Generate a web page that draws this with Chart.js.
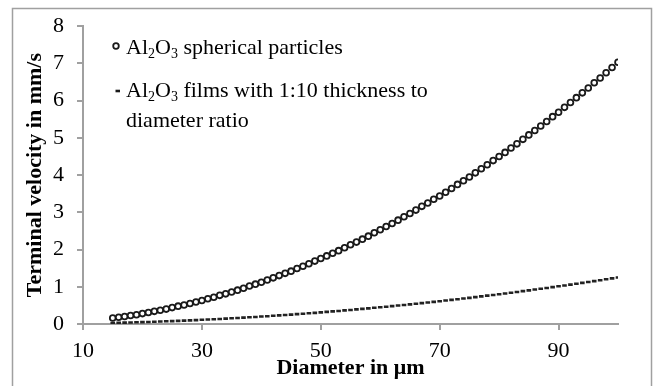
<!DOCTYPE html>
<html>
<head>
<meta charset="utf-8">
<script src="https://cdn.jsdelivr.net/npm/chart.js@4.4.0/dist/chart.umd.min.js"></script>
<style>
  html, body { margin: 0; padding: 0; background: #fff; }
  #wrap { width: 654px; height: 386px; }
</style>
</head>
<body>
<div id="wrap"><canvas id="velocity-chart" width="654" height="386"></canvas></div>
<script>
// Data

let diameters = [
	15, 16, 17, 18, 19, 20, 21, 22, 23, 24, 25, 26, 27, 28, 29, 30, 31, 32, 33, 34,
	35, 36, 37, 38, 39, 40, 41, 42, 43, 44, 45, 46, 47, 48, 49, 50, 51, 52, 53, 54,
	55, 56, 57, 58, 59, 60, 61, 62, 63, 64, 65, 66, 67, 68, 69, 70, 71, 72, 73, 74,
	75, 76, 77, 78, 79, 80, 81, 82, 83, 84, 85, 86, 87, 88, 89, 90, 91, 92, 93, 94,
	95, 96, 97, 98, 99, 100
];

let labelSpheres = "Al2O3 spherical particles";
let dataSpheres = [
	0.16, 0.18, 0.20, 0.23, 0.25, 0.28, 0.31, 0.34, 0.37, 0.40, 0.44, 0.48, 0.51, 0.55, 0.59, 0.63, 0.68, 0.72, 0.77, 0.81,
	0.86, 0.91, 0.96, 1.02, 1.07, 1.12, 1.18, 1.24, 1.30, 1.36, 1.42, 1.49, 1.55, 1.62, 1.69, 1.76, 1.83, 1.90, 1.97, 2.05,
	2.13, 2.20, 2.28, 2.36, 2.45, 2.53, 2.62, 2.70, 2.79, 2.88, 2.97, 3.06, 3.16, 3.25, 3.35, 3.44, 3.54, 3.64, 3.75, 3.85,
	3.95, 4.06, 4.17, 4.28, 4.39, 4.50, 4.61, 4.73, 4.84, 4.96, 5.08, 5.20, 5.32, 5.44, 5.57, 5.69, 5.82, 5.95, 6.08, 6.21,
	6.34, 6.48, 6.61, 6.75, 6.89, 7.03
];

let labelFilms = "Al2O3 films with 1:10 thickness to diameter ratio";
let dataFilms = [
	0.028, 0.032, 0.036, 0.041, 0.045, 0.050, 0.055, 0.061, 0.066, 0.072, 0.078, 0.085, 0.091, 0.098, 0.105, 0.113, 0.120, 0.128, 0.136, 0.145,
	0.153, 0.162, 0.171, 0.181, 0.190, 0.200, 0.210, 0.221, 0.231, 0.242, 0.253, 0.265, 0.276, 0.288, 0.300, 0.313, 0.325, 0.338, 0.351, 0.365,
	0.378, 0.392, 0.406, 0.421, 0.435, 0.450, 0.465, 0.481, 0.496, 0.512, 0.528, 0.545, 0.561, 0.578, 0.595, 0.613, 0.630, 0.648, 0.666, 0.685,
	0.703, 0.722, 0.741, 0.761, 0.780, 0.800, 0.820, 0.841, 0.861, 0.882, 0.903, 0.925, 0.946, 0.968, 0.990, 1.013, 1.035, 1.058, 1.081, 1.105,
	1.128, 1.152, 1.176, 1.201, 1.225, 1.250
];

let xTicks = [10, 30, 50, 70, 90];
let yTicks = [0, 1, 2, 3, 4, 5, 6, 7, 8];

let xTitle = "Diameter in μm";
let yTitle = "Terminal velocity in mm/s";

/* ==============================
Helpers
=================================*/

const serif = "'Liberation Serif', 'Times New Roman', serif";
const axisGrey = "#a0a0a0";

const toPoints = (xs, ys) => xs.map((x, i) => ({ x: x, y: ys[i] }));

// draws "Al2O3 ..." with the digits after Al and O as subscripts
function drawChemText(ctx, text, x, y, size) {
	let parts = text.match(/^(Al)(2)(O)(3)(.*)$/);
	if (!parts) {
		ctx.font = size + "px " + serif;
		ctx.fillText(text, x, y);
		return;
	}
	let pos = x;
	for (let i = 1; i < parts.length; i++) {
		let sub = i === 2 || i === 4;
		ctx.font = (sub ? Math.round(size * 0.65) : size) + "px " + serif;
		ctx.fillText(parts[i], pos, sub ? y + size * 0.18 : y);
		pos += ctx.measureText(parts[i]).width;
	}
}

// frame + in-plot legend
const framePlugin = {
	id: "frameAndLegend",
	afterDraw(chart) {
		let ctx = chart.ctx;
		ctx.save();
		ctx.strokeStyle = axisGrey;
		ctx.lineWidth = 1.5;
		ctx.strokeRect(12.5, 8.5, 639, 400);

		ctx.textBaseline = "alphabetic";
		ctx.textAlign = "left";

		// circle marker
		ctx.beginPath();
		ctx.arc(116, 46, 2.8, 0, Math.PI * 2);
		ctx.fillStyle = "#fff";
		ctx.fill();
		ctx.lineWidth = 1.8;
		ctx.strokeStyle = "#1a1a1a";
		ctx.stroke();

		// dash marker
		ctx.beginPath();
		ctx.moveTo(115.5, 91);
		ctx.lineTo(120, 91);
		ctx.lineWidth = 2.6;
		ctx.stroke();

		ctx.fillStyle = "#000";
		drawChemText(ctx, labelSpheres, 126, 54, 22);
		drawChemText(ctx, "Al2O3 films with 1:10 thickness to", 126, 97, 22);
		drawChemText(ctx, "diameter ratio", 126, 127, 22);
		ctx.restore();
	}
};

/* ==============================
Chart
=================================*/

let velocityChart = new Chart(document.getElementById("velocity-chart").getContext("2d"), {
	type: "scatter",
	data: {
		datasets: [
			{
				label: labelSpheres,
				data: toPoints(diameters, dataSpheres),
				pointStyle: "circle",
				pointRadius: 2.9,
				pointBorderWidth: 1.8,
				borderColor: "#1a1a1a",
				backgroundColor: "#fff",
				showLine: false
			},
			{
				label: labelFilms,
				data: toPoints(diameters, dataFilms),
				pointStyle: "line",
				pointRadius: 2.3,
				pointBorderWidth: 2.6,
				borderColor: "#222",
				backgroundColor: "#222",
				showLine: false
			}
		]
	},
	options: {
		responsive: false,
		animation: false,
		events: [],
		layout: { padding: { left: 0, right: 36, top: 22, bottom: 0 } },
		plugins: {
			legend: { display: false },
			tooltip: { enabled: false }
		},
		scales: {
			x: {
				type: "linear",
				min: 10,
				max: 100,
				afterFit: scale => { scale.height = 62; },
				afterBuildTicks: scale => { scale.ticks = xTicks.map(v => ({ value: v })); },
				grid: { display: true, drawOnChartArea: false, tickLength: 6, color: axisGrey, lineWidth: 2 },
				border: { display: true, color: axisGrey, width: 2 },
				ticks: { color: "#000", padding: 8, font: { family: serif, size: 22 } },
				title: {
					display: true,
					text: xTitle,
					color: "#000",
					padding: { top: 0, bottom: 4 },
					font: { family: serif, size: 22, weight: "bold" }
				}
			},
			y: {
				type: "linear",
				min: 0,
				max: 8,
				afterFit: scale => { scale.width = 83; },
				afterBuildTicks: scale => { scale.ticks = yTicks.map(v => ({ value: v })); },
				grid: { display: true, drawOnChartArea: false, tickLength: 6, color: axisGrey, lineWidth: 2 },
				border: { display: true, color: axisGrey, width: 2 },
				ticks: { color: "#000", padding: 13, font: { family: serif, size: 22 } },
				title: {
					display: true,
					text: yTitle,
					color: "#000",
					padding: { top: 22, bottom: 0 },
					font: { family: serif, size: 22, weight: "bold" }
				}
			}
		}
	},
	plugins: [framePlugin]
});
</script>
</body>
</html>
